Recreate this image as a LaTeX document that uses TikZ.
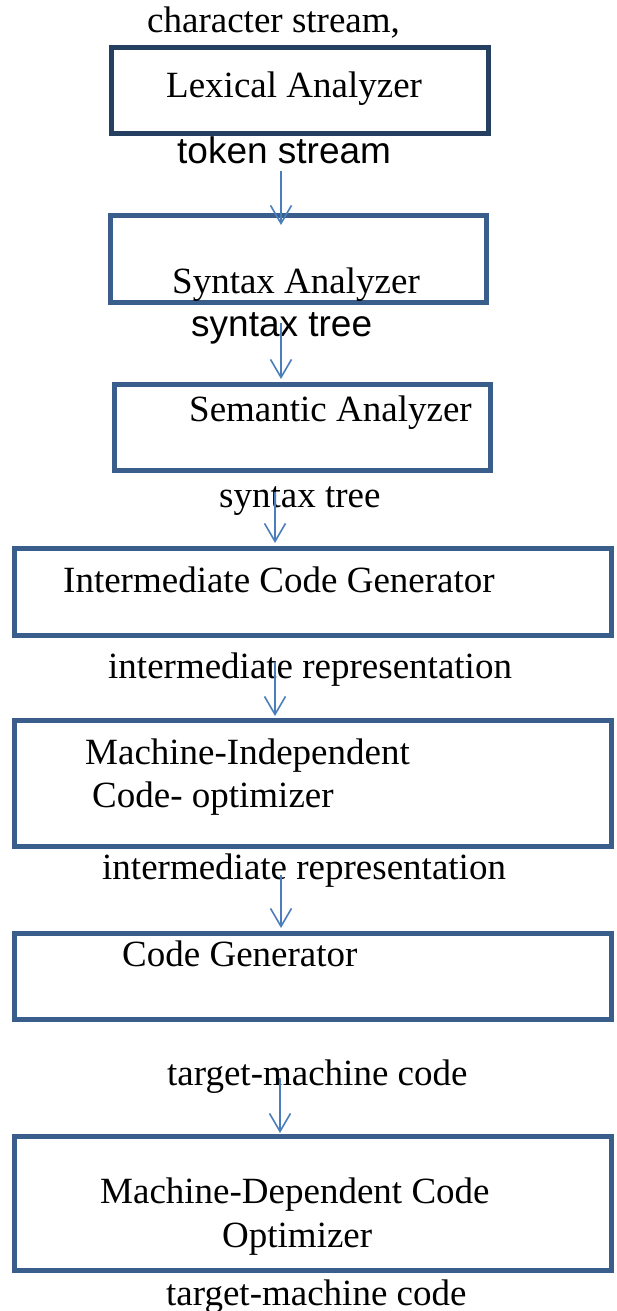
\documentclass[tikz,border=0pt]{standalone}
\usepackage{fontspec}
\setmainfont{Liberation Serif}
\newfontfamily\arialfont{Liberation Sans}
\usetikzlibrary{arrows.meta}
\definecolor{boxblue}{HTML}{3A5E8C}
\definecolor{boxdark}{HTML}{243F60}
\definecolor{arrblue}{HTML}{4A7EBB}
\tikzset{
  stagebox/.style={draw=boxblue, line width=5pt, fill=none},
  stagedark/.style={draw=boxdark, line width=5pt, fill=none},
  lbl/.style={anchor=base west, inner sep=0pt, font=\fontsize{37}{40}\selectfont},
  slbl/.style={anchor=base west, inner sep=0pt, font=\arialfont\fontsize{37}{40}\selectfont},
  flow/.style={draw=arrblue, line width=1.6pt, -{Straight Barb[length=18pt,width=21pt,line width=1.6pt]}}
}
\begin{document}
\begin{tikzpicture}[x=1pt,y=-1pt]
\useasboundingbox (0,0) rectangle (617,1311);
% boxes
\draw[stagedark] (111.5,47.5) rectangle (488.5,133.5);
\draw[stagebox] (110.5,215.5) rectangle (486.5,302.5);
\draw[stagebox] (114.5,384.5) rectangle (490.5,470.5);
\draw[stagebox] (14.5,548.5) rectangle (611.5,635.5);
\draw[stagebox] (14.5,720.5) rectangle (611.5,846.5);
\draw[stagebox] (14.5,933.5) rectangle (611.5,1019.5);
\draw[stagebox] (14.5,1136.5) rectangle (611.5,1270.5);
% texts
\node[lbl] (t0) at (147,33) {character stream,};
\node[lbl] (lex) at (166,98) {Lexical Analyzer};
\node[slbl] (t1) at (177,163) {token stream};
\node[lbl] (syn) at (172,293) {Syntax Analyzer};
\node[slbl] (t2) at (191,336) {syntax tree};
\node[lbl] (sem) at (189,421) {Semantic Analyzer};
\node[lbl] (t3) at (219,507) {syntax tree};
\node[lbl] (icg) at (63,592) {Intermediate Code Generator};
\node[lbl] (t4) at (108,678) {intermediate representation};
\node[lbl] (mi1) at (85,764) {Machine-Independent};
\node[lbl] (mi2) at (92,807) {Code- optimizer};
\node[lbl] (t5) at (102,879) {intermediate representation};
\node[lbl] (cg) at (122,966) {Code Generator};
\node[lbl] (t6) at (167,1085) {target-machine code};
\node[lbl] (md1) at (100,1203) {Machine-Dependent Code};
\node[lbl] (md2) at (222,1247) {Optimizer};
\node[lbl] (t7) at (166,1305) {target-machine code};
% arrows
\coordinate (a1s) at (281,171); \coordinate (a1e) at (281,225);
\coordinate (a2s) at (281,323); \coordinate (a2e) at (281,379);
\coordinate (a3s) at (275,492); \coordinate (a3e) at (275,543);
\coordinate (a4s) at (275,662); \coordinate (a4e) at (275,716);
\coordinate (a5s) at (281,875); \coordinate (a5e) at (281,928);
\coordinate (a6s) at (280,1078); \coordinate (a6e) at (280,1133);
\draw[flow] (a1s) -- (a1e);
\draw[flow] (a2s) -- (a2e);
\draw[flow] (a3s) -- (a3e);
\draw[flow] (a4s) -- (a4e);
\draw[flow] (a5s) -- (a5e);
\draw[flow] (a6s) -- (a6e);
\end{tikzpicture}
\end{document}
